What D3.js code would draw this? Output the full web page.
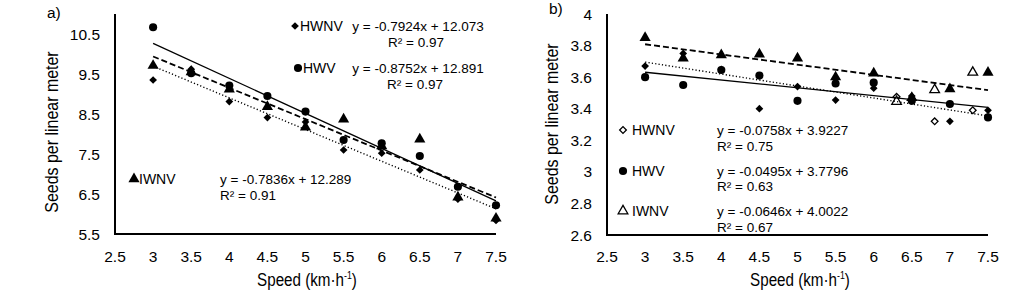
<!DOCTYPE html>
<html>
<head>
<meta charset="utf-8">
<script src="https://cdn.jsdelivr.net/npm/d3@7"></script>
<style>
  body { margin: 0; background: #fff; }
  text { font-family: "Liberation Sans", Arial, sans-serif; fill: #000; }
</style>
</head>
<body>
<div id="chart"></div>
<script>
// speeds (km/h)
const speeds = [3, 3.5, 4, 4.5, 5, 5.5, 6, 6.5, 7, 7.5];

// panel a
const aHWNV = [9.35, 9.62, 8.81, 8.41, 8.30, 7.60, 7.52, 7.10, 6.37, 5.84];
const aHWV  = [10.67, 9.52, 9.21, 8.95, 8.56, 7.85, 7.77, 7.45, 6.68, 6.22];
const aIWNV = [9.71, 9.55, 9.12, 8.68, 8.17, 8.37, 7.70, 7.87, 6.42, 5.89];
const aSlope = [-0.7924, -0.8752, -0.7836];
const aInter = [12.073, 12.891, 12.289];
const aEq = ["y = -0.7924x + 12.073", "y = -0.8752x + 12.891", "y = -0.7836x + 12.289"];
const aR2 = ["R² = 0.97", "R² = 0.97", "R² = 0.91"];
const aYTicks = [5.5, 6.5, 7.5, 8.5, 9.5, 10.5];

// panel b
const bHWNV = [3.67, 3.75, 3.65, 3.40, 3.54, 3.455, 3.53, 3.48, 3.32, 3.39];
const bHWV  = [3.60, 3.55, 3.645, 3.61, 3.45, 3.56, 3.565, 3.45, 3.43, 3.345];
const bIWNV = [3.85, 3.72, 3.74, 3.745, 3.72, 3.60, 3.625, 3.47, 3.525, 3.63];
const bOpenSpeeds = [6.3, 6.8, 7.3];
const bHWNVopen = [3.475, 3.32, 3.39];
const bIWNVopen = [3.445, 3.52, 3.63];
const bSlope = [-0.0758, -0.0495, -0.0646];
const bInter = [3.9227, 3.7796, 4.0022];
const bEq = ["y = -0.0758x + 3.9227", "y = -0.0495x + 3.7796", "y = -0.0646x + 4.0022"];
const bR2 = ["R² = 0.75", "R² = 0.63", "R² = 0.67"];
const bYTicks = [2.6, 2.8, 3, 3.2, 3.4, 3.6, 3.8, 4];

const xTicks = [2.5, 3, 3.5, 4, 4.5, 5, 5.5, 6, 6.5, 7, 7.5];
const names = ["HWNV", "HWV", "IWNV"];

const svg = d3.select("#chart").append("svg")
  .attr("width", 1023).attr("height", 291);

const shapes = [d3.symbolSquare, d3.symbolCircle, d3.symbolTriangle];
const sizes = [30, 52, 54];
const dashes = ["1.2,2.2", null, "6,3"];
const widths = [1.4, 1.3, 1.8];

function marker(g, i, x, y, open) {
  g.append("path")
    .attr("d", d3.symbol(shapes[i], open ? sizes[i] * 0.75 : sizes[i])())
    .attr("transform", `translate(${x},${y})` + (i === 0 ? " rotate(45)" : ""))
    .attr("fill", open ? "#fff" : "#000")
    .attr("stroke", "#000")
    .attr("stroke-width", open ? 1.3 : 0);
}

function panel(p) {
  const g = svg.append("g");
  const x = d3.scaleLinear().domain([2.5, 7.5]).range(p.xr);
  const y = d3.scaleLinear().domain(p.yd).range(p.yr);

  // tick labels
  g.selectAll(".yt").data(p.yTicks).enter().append("text")
    .attr("x", p.xr[0] - 15).attr("y", d => y(d) + 5.5)
    .attr("text-anchor", "end").style("font-size", "15.5px")
    .text(d => d);
  g.selectAll(".xt").data(xTicks).enter().append("text")
    .attr("x", d => x(d)).attr("y", p.xtY)
    .attr("text-anchor", "middle").style("font-size", "15.5px")
    .text(d => d);

  // axis lines
  g.append("line").attr("x1", x(2.5)).attr("x2", x(2.5))
    .attr("y1", p.yr[1]).attr("y2", p.yr[0] + 1)
    .attr("stroke", "#000").attr("stroke-width", 2);
  g.append("line").attr("x1", x(2.5) - 1).attr("x2", x(7.5))
    .attr("y1", p.yr[0]).attr("y2", p.yr[0])
    .attr("stroke", "#000").attr("stroke-width", 2);

  // axis titles (narrow look)
  g.append("text")
    .attr("transform", `translate(${p.ylabX},${p.ylabY}) rotate(-90) scale(0.84,1)`)
    .attr("text-anchor", "middle").style("font-size", "19px")
    .text("Seeds per linear meter");
  const xl = g.append("text")
    .attr("transform", `translate(${p.xlabX},286) scale(0.8,1)`)
    .attr("text-anchor", "middle")
    .style("font-size", "19px");
  xl.append("tspan").text("Speed (km·h");
  xl.append("tspan").attr("dy", -7).style("font-size", "11px").text("-1");
  xl.append("tspan").attr("dy", 7).text(")");

  g.append("text").attr("x", p.tagX).attr("y", p.tagY)
    .style("font-size", "15.5px").text(p.tag);

  // points
  p.series.forEach((vals, i) => {
    vals.forEach((v, k) => marker(g, i, x(speeds[k]), y(v), false));
  });
  p.open.forEach(([i, vals]) => {
    vals.forEach((v, k) => marker(g, i, x(bOpenSpeeds[k]), y(v), true));
  });

  // trend lines
  p.slope.forEach((s, i) => {
    g.append("line")
      .attr("x1", x(3)).attr("y1", y(p.inter[i] + s * 3))
      .attr("x2", x(7.5)).attr("y2", y(p.inter[i] + s * 7.5))
      .attr("stroke", "#000").attr("stroke-width", widths[i])
      .attr("stroke-dasharray", dashes[i]);
  });

  // legend and equations
  p.leg.forEach((L, i) => {
    marker(g, i, L.mx, L.y - 5, p.legOpen && i !== 1);
    g.append("text").attr("x", L.mx + p.gap).attr("y", L.y)
      .style("font-size", "14px").text(names[i]);
    g.append("text").attr("x", L.ex).attr("y", L.y)
      .attr("text-anchor", L.anchor).style("font-size", "13.5px").text(p.eq[i]);
    g.append("text").attr("x", L.rx).attr("y", L.y + L.dy)
      .attr("text-anchor", L.anchor).style("font-size", "13.5px").text(p.r2[i]);
  });
}

panel({
  xr: [115, 496], yr: [234, 14], yd: [5.5, 11], yTicks: aYTicks,
  xtY: 262, ylabX: 58, ylabY: 132, xlabX: 307, tag: "a)", tagX: 47, tagY: 18,
  series: [aHWNV, aHWV, aIWNV], open: [], gap: 5,
  slope: aSlope, inter: aInter, eq: aEq, r2: aR2, legOpen: false,
  leg: [
    {mx: 295, y: 31, ex: 418, rx: 416, dy: 16, anchor: "middle"},
    {mx: 298, y: 73, ex: 418, rx: 415, dy: 16, anchor: "middle"},
    {mx: 134, y: 184, ex: 220, rx: 220, dy: 16, anchor: "start"}
  ]
});

panel({
  xr: [607, 988], yr: [235, 14], yd: [2.6, 4.0], yTicks: bYTicks,
  xtY: 262, ylabX: 558, ylabY: 124, xlabX: 800, tag: "b)", tagX: 549, tagY: 14,
  series: [bHWNV, bHWV, bIWNV], open: [[0, bHWNVopen], [2, bIWNVopen]], gap: 9,
  slope: bSlope, inter: bInter, eq: bEq, r2: bR2, legOpen: true,
  leg: [
    {mx: 623, y: 135, ex: 717, rx: 717, dy: 16, anchor: "start"},
    {mx: 623, y: 176, ex: 717, rx: 717, dy: 15, anchor: "start"},
    {mx: 623, y: 216, ex: 717, rx: 717, dy: 16, anchor: "start"}
  ]
});
</script>
</body>
</html>
